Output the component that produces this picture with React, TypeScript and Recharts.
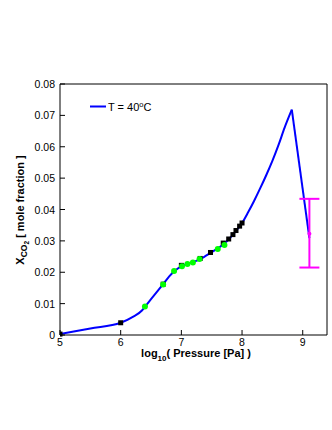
import {
  ComposedChart,
  Line,
  Scatter,
  ErrorBar,
  XAxis,
  YAxis,
} from "recharts";

// blue model curve, T = 40 C
const curveX = [5, 5.5, 6, 6.2, 6.35, 6.4, 6.5, 6.6, 6.7, 6.8, 6.9, 7.0, 7.1, 7.2, 7.3, 7.4, 7.5, 7.6, 7.7, 7.8, 7.9, 8.0, 8.1, 8.2, 8.3, 8.4, 8.5, 8.6, 8.7, 8.82, 9.11];
const curveY = [0.0003, 0.0021, 0.0039, 0.0058, 0.0078, 0.009, 0.0114, 0.0138, 0.0162, 0.0187, 0.0206, 0.0219, 0.0227, 0.0233, 0.0241, 0.0252, 0.0264, 0.0276, 0.029, 0.0309, 0.0332, 0.0357, 0.0391, 0.0428, 0.0468, 0.051, 0.0555, 0.0605, 0.066, 0.0718, 0.0309];

// black squares
const squareX = [5, 6, 6.7, 7.0, 7.31, 7.48, 7.69, 7.78, 7.85, 7.9, 7.96, 8.0];
const squareY = [0.0003, 0.0039, 0.0162, 0.0222, 0.0244, 0.0263, 0.0293, 0.0306, 0.032, 0.0333, 0.0347, 0.0357];

// green circles
const circleX = [6.4, 6.7, 6.88, 7.01, 7.1, 7.19, 7.3, 7.6, 7.71];
const circleY = [0.0091, 0.0161, 0.0204, 0.0219, 0.0226, 0.0231, 0.0242, 0.0274, 0.0287];

// magenta point with error bar
const errX = [9.11];
const errY = [0.0323];
const errLow = [0.0108];
const errHigh = [0.0111];

const xTicks = [5, 6, 7, 8, 9];
const yTicks = [0, 0.01, 0.02, 0.03, 0.04, 0.05, 0.06, 0.07, 0.08];

const curveData = curveX.map((x, i) => ({ x, y: curveY[i] }));
// split at the peak so the cusp stays sharp
const peak = curveY.indexOf(Math.max(...curveY));
const riseData = curveData.slice(0, peak + 1);
const fallData = curveData.slice(peak);
const squareData = squareX.map((x, i) => ({ x, y: squareY[i] }));
const circleData = circleX.map((x, i) => ({ x, y: circleY[i] }));
const errData = errX.map((x, i) => ({ x, y: errY[i], err: [errLow[i], errHigh[i]] }));

const FONT = "'Liberation Sans', Arial, Helvetica, sans-serif";
const TICK = 5;

function BottomTick(props: any) {
  const { x, y, payload } = props;
  return (
    <g>
      <line x1={x} x2={x} y1={y} y2={y - TICK} stroke="#000" />
      <text x={x} y={y + 11} textAnchor="middle" fontSize={10.5} fontFamily={FONT} fill="#000">
        {payload.value}
      </text>
    </g>
  );
}

function TopTick(props: any) {
  const { x, y } = props;
  return <line x1={x} x2={x} y1={y} y2={y + TICK} stroke="#000" />;
}

function LeftTick(props: any) {
  const { x, y, payload } = props;
  const v = payload.value;
  return (
    <g>
      <line x1={x} x2={x + TICK} y1={y} y2={y} stroke="#000" />
      <text x={x - 5} y={y + 4} textAnchor="end" fontSize={10.5} fontFamily={FONT} fill="#000">
        {v === 0 ? "0" : v.toFixed(2)}
      </text>
    </g>
  );
}

function RightTick(props: any) {
  const { x, y } = props;
  return <line x1={x} x2={x - TICK} y1={y} y2={y} stroke="#000" />;
}

function Square(props: any) {
  const { cx, cy } = props;
  return <rect x={cx - 2.5} y={cy - 2.5} width={5} height={5} fill="#000" />;
}

function Circle(props: any) {
  const { cx, cy } = props;
  return <circle cx={cx} cy={cy} r={3} fill="#00ff00" />;
}

function Dot(props: any) {
  const { cx, cy } = props;
  return <circle cx={cx} cy={cy} r={2} fill="#ff00ff" />;
}

export default function App() {
  return (
    <div style={{ position: "relative", width: 332, height: 430, background: "#fff" }}>
      <style>{"body{margin:0}"}</style>
      <ComposedChart
        width={332}
        height={430}
        margin={{ top: 83, right: 4, bottom: 94, left: 0 }}
      >
        <XAxis
          dataKey="x"
          type="number"
          domain={[5, 9.4]}
          ticks={xTicks}
          allowDataOverflow
          height={1}
          tickSize={0}
          tickMargin={0}
          tick={BottomTick}
          axisLine={{ stroke: "#000" }}
        />
        <XAxis
          xAxisId="top"
          orientation="top"
          dataKey="x"
          type="number"
          domain={[5, 9.4]}
          ticks={xTicks}
          height={1}
          tickSize={0}
          tickMargin={0}
          tick={TopTick}
          axisLine={{ stroke: "#000" }}
        />
        <YAxis
          type="number"
          domain={[0, 0.08]}
          ticks={yTicks}
          width={60}
          tickSize={0}
          tickMargin={0}
          tick={LeftTick}
          axisLine={{ stroke: "#000" }}
        />
        <YAxis
          yAxisId="right"
          orientation="right"
          type="number"
          domain={[0, 0.08]}
          ticks={yTicks}
          width={1}
          tickSize={0}
          tickMargin={0}
          tick={RightTick}
          axisLine={{ stroke: "#000" }}
        />
        <Line
          data={riseData}
          dataKey="y"
          type="monotone"
          stroke="#0000ff"
          strokeWidth={2}
          dot={false}
          isAnimationActive={false}
        />
        <Line
          data={fallData}
          dataKey="y"
          type="linear"
          stroke="#0000ff"
          strokeWidth={2}
          dot={false}
          isAnimationActive={false}
        />
        <Scatter data={squareData} dataKey="y" shape={Square} isAnimationActive={false} />
        <Scatter data={circleData} dataKey="y" shape={Circle} isAnimationActive={false} />
        <Scatter data={errData} dataKey="y" shape={Dot} isAnimationActive={false}>
          <ErrorBar dataKey="err" direction="y" width={10} stroke="#ff00ff" strokeWidth={2} isAnimationActive={false} />
        </Scatter>
      </ComposedChart>
      <svg
        width={332}
        height={430}
        style={{ position: "absolute", left: 0, top: 0, pointerEvents: "none" }}
        fontFamily={FONT}
      >
        <line x1={90} x2={106} y1={106.5} y2={106.5} stroke="#0000ff" strokeWidth={2} />
        <text x={108} y={110.5} fontSize={11} fill="#000">
          T = 40
          <tspan dy={-4} fontSize={7.5}>o</tspan>
          <tspan dy={4}>C</tspan>
        </text>
        <text x={196} y={357} textAnchor="middle" fontSize={11} fontWeight="bold" fill="#000">
          log
          <tspan dy={4} fontSize={8}>10</tspan>
          <tspan dy={-4}>( Pressure [Pa] )</tspan>
        </text>
        <text
          transform="translate(24,210) rotate(-90)"
          textAnchor="middle"
          fontSize={11}
          fontWeight="bold"
          fill="#000"
        >
          X
          <tspan dy={3} fontSize={8.5}>CO</tspan>
          <tspan dy={2} fontSize={6.5}>2</tspan>
          <tspan dy={-5}> [ mole fraction ]</tspan>
        </text>
      </svg>
    </div>
  );
}
